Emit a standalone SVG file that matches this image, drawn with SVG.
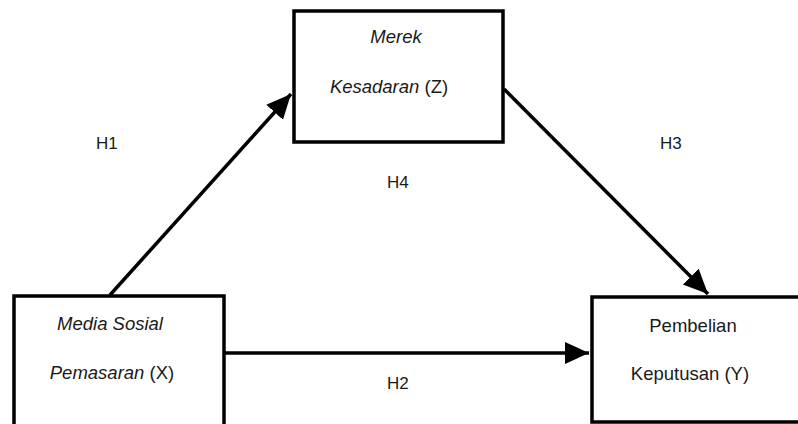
<svg xmlns="http://www.w3.org/2000/svg" width="798" height="424" viewBox="0 0 798 424">
<defs>
<style>
.box{fill:#fff;stroke:#000;stroke-width:3.5}
.edge{stroke:#000;stroke-width:3.5;fill:none}
.t{font-family:"Liberation Sans",Arial,sans-serif;font-size:18.5px;fill:#1a1a1a}
.i{font-style:italic}
.h{font-family:"Liberation Sans",Arial,sans-serif;font-size:17px;fill:#1a1a1a}
</style>
<marker id="ah" markerWidth="8" markerHeight="8" refX="7" refY="4" orient="auto" markerUnits="strokeWidth" viewBox="0 0 8 8">
<path d="M0,0.8 L7,4 L0,7.2 Z" fill="#000"/>
</marker>
</defs>
<rect width="798" height="424" fill="#fff"/>
<g id="edges">
<line class="edge" x1="110" y1="295" x2="291" y2="94" marker-end="url(#ah)"/>
<line class="edge" x1="504" y1="89" x2="708" y2="294" marker-end="url(#ah)"/>
<line class="edge" x1="225" y1="353" x2="589" y2="353" marker-end="url(#ah)"/>
</g>
<g id="node-z">
<rect class="box" x="294" y="11" width="209" height="131"/>
<text class="t i" x="396" y="43" text-anchor="middle">Merek</text>
<text class="t" x="389" y="93" text-anchor="middle"><tspan class="i">Kesadaran</tspan> (Z)</text>
</g>
<g id="node-x">
<rect class="box" x="14" y="296" width="210" height="140"/>
<text class="t i" x="110" y="330" text-anchor="middle">Media Sosial</text>
<text class="t" x="112" y="379" text-anchor="middle"><tspan class="i">Pemasaran</tspan> (X)</text>
</g>
<g id="node-y">
<rect class="box" x="592" y="297" width="220" height="125"/>
<text class="t" x="693" y="332" text-anchor="middle">Pembelian</text>
<text class="t" x="690" y="380" text-anchor="middle">Keputusan (Y)</text>
</g>
<g id="labels">
<text class="h" x="96" y="149">H1</text>
<text class="h" x="660" y="149">H3</text>
<text class="h" x="387" y="188">H4</text>
<text class="h" x="387" y="389">H2</text>
</g>
</svg>
